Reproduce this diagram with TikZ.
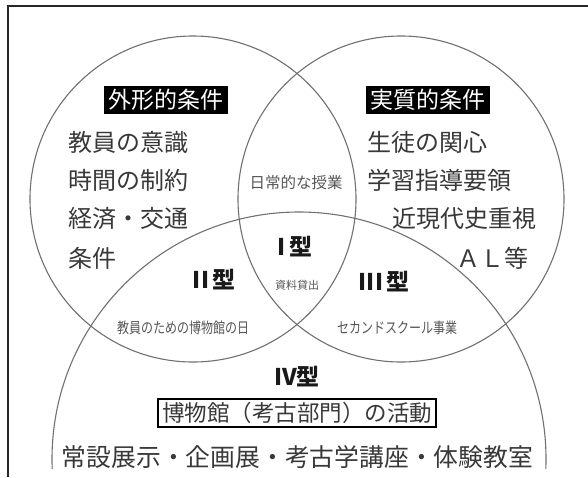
\documentclass[tikz,border=0pt]{standalone}
\usepackage{fontspec}
\newfontfamily\jp{Noto Sans CJK JP}
\definecolor{ringc}{HTML}{707070}
\definecolor{txt}{HTML}{383838}
\definecolor{txtg}{HTML}{555555}
\begin{document}
\begin{tikzpicture}[x=1pt,y=-1pt,
  ring/.style={draw=ringc,line width=1.1pt},
  frameline/.style={draw=black!85,line width=1.3pt},
  body/.style={font=\jp\fontsize{24}{26}\selectfont,text=txt,inner sep=0pt},
  headbox/.style={font=\jp\fontsize{23}{25}\selectfont,fill=black,text=white,inner xsep=4.5pt,inner ysep=3pt},
  small/.style={font=\jp\fontsize{15.5}{17}\selectfont,text=txtg,inner sep=0pt},
  tiny/.style={font=\jp\fontsize{11}{12}\selectfont,text=txtg,inner sep=0pt},
  cond/.style={font=\jp\fontsize{15}{17}\selectfont,text=txtg,inner sep=0pt},
  typ/.style={font=\jp\bfseries\fontsize{23}{25}\selectfont,text=black!90,inner sep=0pt},
  actbox/.style={font=\jp\fontsize{22.5}{25}\selectfont,text=txt,draw=black,line width=1.8pt,inner xsep=4pt,inner ysep=3pt}]
\useasboundingbox (0,0) rectangle (588,477);
% circles
\coordinate (cL) at (193,199);
\coordinate (cR) at (401,199);
\coordinate (cB) at (299,459);
\draw[ring] (cL) circle[radius=163];
\draw[ring] (cR) circle[radius=163];
\begin{scope}
  \clip (0,0) rectangle (588,468);
  \draw[ring] (cB) circle[radius=247];
\end{scope}
% frame
\coordinate (ftr) at (588,6);
\coordinate (ftl) at (8,6);
\coordinate (fbl) at (8,477);
\draw[frameline] (ftr) -- (ftl) -- (fbl);
% left circle texts
\node[headbox] (hL) at (166,100) {外形的条件};
\node[body,anchor=west] (l1) at (68,142) {教員の意識};
\node[body,anchor=west] (l2) at (68,180) {時間の制約};
\node[body,anchor=west] (l3) at (68,218) {経済・交通};
\node[body,anchor=west] (l4) at (68,258) {条件};
% right circle texts
\node[headbox] (hR) at (428,100) {実質的条件};
\node[body,anchor=west] (r1) at (367,142) {生徒の関心};
\node[body,anchor=west] (r2) at (367,180) {学習指導要領};
\node[body,anchor=west] (r3) at (392,218) {近現代史重視};
\node[body,anchor=west] (r4) at (456,258) {ＡＬ等};
% centre
\node[small] (daily) at (296,183) {日常的な授業};
\node[typ] (t1) at (295,247) {I\kern3pt 型};
\node[tiny] (loan) at (297,285) {資料貸出};
\node[typ] (t2) at (214,280) {II\kern3pt 型};
\node[typ] (t3) at (384,282) {III\kern3pt 型};
\node[cond] (teach) at (183,328) {\scalebox{0.8}[1]{教員のための博物館の日}};
\node[cond] (second) at (397,328) {\scalebox{0.8}[1]{セカンドスクール事業}};
% bottom circle
\node[typ] (t4) at (297,377) {IV型};
\node[actbox] (act) at (297,413) {博物館（考古部門）の活動};
\node[body,font=\jp\fontsize{24.8}{26}\selectfont] (list) at (297.5,457) {常設展示・企画展・考古学講座・体験教室};
\end{tikzpicture}
\end{document}
